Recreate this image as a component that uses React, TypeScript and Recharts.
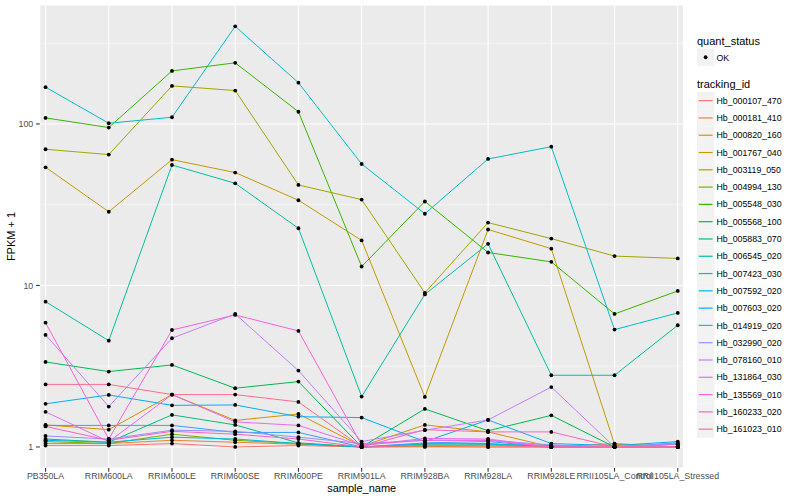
import React from "react";
import {
  LineChart,
  Line,
  XAxis,
  YAxis,
  CartesianGrid,
  ReferenceLine,
} from "recharts";

const FONT = "'Liberation Sans', Arial, Helvetica, sans-serif";

const categories = [
  "PB350LA",
  "RRIM600LA",
  "RRIM600LE",
  "RRIM600SE",
  "RRIM600PE",
  "RRIM901LA",
  "RRIM928BA",
  "RRIM928LA",
  "RRIM928LE",
  "RRII105LA_Control",
  "RRII105LA_Stressed",
];

// FPKM + 1 per sample
const hb000107_470 = [1.02, 1.02, 1.05, 1.0, 1.02, 1.0, 1.0, 1.0, 1.0, 1.0, 1.0];
const hb000181_410 = [1.05, 1.05, 1.1, 1.07, 1.04, 1.0, 1.01, 1.0, 1.0, 1.0, 1.0];
const hb000820_160 = [1.37, 1.28, 2.11, 1.46, 1.6, 1.01, 1.37, 1.24, 1.0, 1.05, 1.0];
const hb001767_040 = [53.9, 28.6, 60.1, 50, 33.7, 19, 2.04, 22.2, 16.9, 1.04, 1.0];
const hb003119_050 = [69.7, 64.6, 172, 161, 41.9, 34, 9.0, 24.5, 19.5, 15.2, 14.7];
const hb004994_130 = [1.08, 1.05, 1.2, 1.1, 1.05, 1.0, 1.02, 1.03, 1.0, 1.0, 1.0];
const hb005548_030 = [109, 95, 213, 239, 119, 13.1, 33.1, 16.0, 14.0, 6.66, 9.25];
const hb005568_100 = [3.36, 2.93, 3.22, 2.31, 2.54, 1.0, 1.72, 1.26, 1.57, 1.0, 1.0];
const hb005883_070 = [1.12, 1.07, 1.58, 1.37, 1.06, 1.0, 1.04, 1.05, 1.0, 1.0, 1.0];
const hb006545_020 = [7.94, 4.55, 55.7, 42.9, 22.6, 2.05, 8.8, 18.1, 2.78, 2.78, 5.67];
const hb007423_030 = [169, 101, 110, 402, 180, 56.5, 27.8, 60.7, 72.3, 5.33, 6.76];
const hb007592_020 = [1.1, 1.07, 1.15, 1.12, 1.05, 1.0, 1.05, 1.04, 1.02, 1.0, 1.06];
const hb007603_020 = [1.85, 2.1, 1.81, 1.82, 1.54, 1.52, 1.08, 1.47, 1.05, 1.02, 1.08];
const hb014919_020 = [1.36, 1.36, 1.36, 1.23, 1.23, 1.0, 1.06, 1.08, 1.0, 1.0, 1.04];
const hb032990_020 = [1.17, 1.12, 1.27, 1.25, 1.15, 1.05, 1.1, 1.1, 1.03, 1.0, 1.05];
const hb078160_010 = [4.94, 1.78, 4.71, 6.66, 2.97, 1.08, 1.27, 1.47, 2.35, 1.0, 1.04];
const hb131864_030 = [1.65, 1.08, 2.11, 1.43, 1.36, 1.02, 1.13, 1.12, 1.0, 1.0, 1.0];
const hb135569_010 = [5.88, 1.12, 5.3, 6.57, 5.23, 1.03, 1.1, 1.1, 1.0, 1.0, 1.0];
const hb160233_020 = [1.34, 1.1, 1.25, 1.2, 1.12, 1.0, 1.28, 1.24, 1.24, 1.0, 1.0];
const hb161023_010 = [2.44, 2.44, 2.11, 2.11, 1.9, 1.0, 1.02, 1.02, 1.0, 1.0, 1.0];

const yTicks = [1, 10, 100];
const yMinor = [Math.sqrt(10), Math.sqrt(1000), Math.sqrt(100000)];

const series = [
  { id: "Hb_000107_470", values: hb000107_470, color: "#F8766D" },
  { id: "Hb_000181_410", values: hb000181_410, color: "#EA8331" },
  { id: "Hb_000820_160", values: hb000820_160, color: "#D89000" },
  { id: "Hb_001767_040", values: hb001767_040, color: "#C09B00" },
  { id: "Hb_003119_050", values: hb003119_050, color: "#A3A500" },
  { id: "Hb_004994_130", values: hb004994_130, color: "#7CAE00" },
  { id: "Hb_005548_030", values: hb005548_030, color: "#39B600" },
  { id: "Hb_005568_100", values: hb005568_100, color: "#00BB4E" },
  { id: "Hb_005883_070", values: hb005883_070, color: "#00BF7D" },
  { id: "Hb_006545_020", values: hb006545_020, color: "#00C1A3" },
  { id: "Hb_007423_030", values: hb007423_030, color: "#00BFC4" },
  { id: "Hb_007592_020", values: hb007592_020, color: "#00BAE0" },
  { id: "Hb_007603_020", values: hb007603_020, color: "#00B0F6" },
  { id: "Hb_014919_020", values: hb014919_020, color: "#35A2FF" },
  { id: "Hb_032990_020", values: hb032990_020, color: "#9590FF" },
  { id: "Hb_078160_010", values: hb078160_010, color: "#C77CFF" },
  { id: "Hb_131864_030", values: hb131864_030, color: "#E76BF3" },
  { id: "Hb_135569_010", values: hb135569_010, color: "#FA62DB" },
  { id: "Hb_160233_020", values: hb160233_020, color: "#FF62BC" },
  { id: "Hb_161023_010", values: hb161023_010, color: "#FF6C91" },
];

const data = categories.map((name, i) => {
  const row: Record<string, string | number> = { sample_name: name };
  series.forEach((s) => {
    row[s.id] = s.values[i];
  });
  return row;
});

function LegendOverlay() {
  const keyX = 697;
  const keySize = 17.3;
  return (
    <svg
      width={800}
      height={500}
      style={{ position: "absolute", left: 0, top: 0, pointerEvents: "none" }}
    >
      <text x={361.7} y={492} textAnchor="middle" fontSize={11} fontFamily={FONT} fill="#000">
        sample_name
      </text>
      <text
        transform="translate(15,236.5) rotate(-90)"
        textAnchor="middle"
        fontSize={11}
        fontFamily={FONT}
        fill="#000"
      >
        FPKM + 1
      </text>

      <text x={keyX} y={44.5} fontSize={11} fontFamily={FONT} fill="#000">
        quant_status
      </text>
      <rect x={keyX} y={48.6} width={keySize} height={keySize} fill="#F2F2F2" />
      <circle cx={keyX + keySize / 2} cy={48.6 + keySize / 2} r={1.9} fill="#000" />
      <text x={716.5} y={60.5} fontSize={8.8} fontFamily={FONT} fill="#000">
        OK
      </text>

      <text x={keyX} y={88.2} fontSize={11} fontFamily={FONT} fill="#000">
        tracking_id
      </text>
      {series.map((s, i) => {
        const top = 92 + i * 17.29;
        const cy = top + keySize / 2;
        return (
          <g key={s.id}>
            <rect x={keyX} y={top} width={keySize} height={keySize} fill="#F2F2F2" />
            <line x1={keyX + 1.7} x2={keyX + keySize - 1.7} y1={cy} y2={cy} stroke={s.color} strokeWidth={1.2} />
            <text x={716.5} y={cy + 3.1} fontSize={8.8} fontFamily={FONT} fill="#000">
              {s.id}
            </text>
          </g>
        );
      })}
    </svg>
  );
}

export default function App() {
  return (
    <div
      style={{
        position: "absolute",
        left: 0,
        top: 0,
        width: 800,
        height: 500,
        background: "#fff",
        fontFamily: FONT,
      }}
    >
      <LineChart
        width={800}
        height={500}
        data={data}
        margin={{ top: 5, right: 116.5, bottom: 0, left: 0 }}
      >
        <CartesianGrid fill="#EBEBEB" stroke="#FFFFFF" strokeWidth={1.07} />
        {yMinor.map((v) => (
          <ReferenceLine key={v} y={v} stroke="#FFFFFF" strokeWidth={0.53} ifOverflow="hidden" />
        ))}
        <XAxis
          dataKey="sample_name"
          interval={0}
          padding={{ left: 5.75, right: 5.75 }}
          height={32}
          axisLine={false}
          tickSize={3.7}
          tickMargin={1.5}
          tickLine={{ stroke: "#333333", strokeWidth: 1.07 }}
          tick={{ fill: "#4D4D4D", fontSize: 8.8, fontFamily: FONT }}
        />
        <YAxis
          scale="log"
          domain={[0.741, 545]}
          allowDataOverflow
          ticks={yTicks}
          width={39.8}
          axisLine={false}
          tickSize={3.7}
          tickMargin={2.9}
          tickLine={{ stroke: "#333333", strokeWidth: 1.07 }}
          tick={{ fill: "#4D4D4D", fontSize: 8.8, fontFamily: FONT }}
        />
        {series.map((s) => (
          <Line
            key={s.id}
            type="linear"
            dataKey={s.id}
            stroke={s.color}
            strokeWidth={1}
            dot={false}
            activeDot={false}
            isAnimationActive={false}
          />
        ))}
        {series.map((s) => (
          <Line
            key={"pt-" + s.id}
            type="linear"
            dataKey={s.id}
            stroke="none"
            dot={{ r: 1.9, fill: "#000", stroke: "none" }}
            activeDot={false}
            legendType="none"
            isAnimationActive={false}
          />
        ))}
      </LineChart>
      <LegendOverlay />
    </div>
  );
}
